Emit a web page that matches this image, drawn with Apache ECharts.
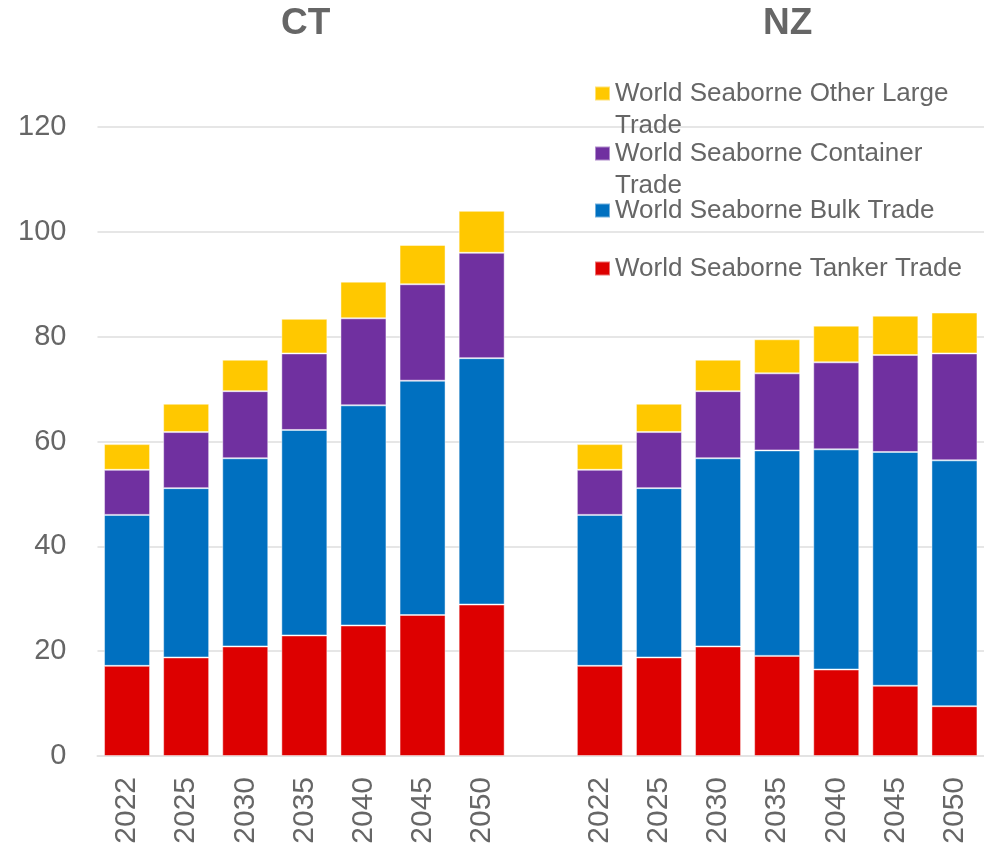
<!DOCTYPE html>
<html>
<head>
<meta charset="utf-8">
<script src="https://cdn.jsdelivr.net/npm/echarts@6/dist/echarts.min.js"></script>
<style>
  html, body { margin: 0; padding: 0; background: #fff; }
  #main { width: 984px; height: 850px; }
</style>
</head>
<body>
<div id="main"></div>
<script>
var years = ['2022', '2025', '2030', '2035', '2040', '2045', '2050']

// CT scenario
var ctTanker = [17.2, 18.8, 20.9, 23.0, 24.9, 26.9, 28.9]
var ctBulk = [28.8, 32.3, 35.9, 39.2, 42.0, 44.7, 47.0]
var ctContainer = [8.6, 10.7, 12.8, 14.6, 16.6, 18.4, 20.1]
var ctOther = [4.9, 5.4, 6.0, 6.6, 7.0, 7.5, 8.0]

// NZ scenario
var nzTanker = [17.2, 18.8, 20.9, 19.1, 16.5, 13.4, 9.5]
var nzBulk = [28.8, 32.3, 35.9, 39.2, 42.0, 44.6, 46.9]
var nzContainer = [8.6, 10.7, 12.8, 14.7, 16.6, 18.5, 20.4]
var nzOther = [4.9, 5.4, 6.0, 6.5, 7.0, 7.5, 7.8]

var names = ['World Seaborne Tanker Trade', 'World Seaborne Bulk Trade',
  'World Seaborne Container Trade', 'World Seaborne Other Large Trade']
var colors = ['#DD0000', '#0070C0', '#7030A0', '#FFC800']

// one axis, a blank slot between the two groups
var categories = years.concat(['']).concat(years)
function join(a, b) {
  return a.concat([null]).concat(b)
}
var seriesData = [
  join(ctTanker, nzTanker),
  join(ctBulk, nzBulk),
  join(ctContainer, nzContainer),
  join(ctOther, nzOther)
]

var gray = '#666666'
var font = '"Liberation Sans", Arial, sans-serif'

var chart = echarts.init(document.getElementById('main'))

// one legend per item so a wrapped name keeps its icon on the first line
// (a blank rich line above the text puts the first line at the icon's middle)
var wrapped = {
  'World Seaborne Other Large Trade': ['World Seaborne Other Large', 'Trade'],
  'World Seaborne Container Trade': ['World Seaborne Container', 'Trade']
}
var lh = 32
function makeLegend(name, center) {
  var lines = wrapped[name]
  var h = lines ? lh * 3 : lh
  return {
    data: [name],
    left: 594,
    top: center - h / 2,
    padding: 0,
    icon: 'rect',
    itemWidth: 15,
    itemHeight: 14,
    selectedMode: false,
    formatter: function (n) {
      if (lines) return '{g| }\n{t|' + lines[0] + '}\n{t|' + lines[1] + '}'
      return '{t|' + n + '}'
    },
    textStyle: {
      fontFamily: font,
      fontSize: 26,
      color: gray,
      rich: {
        g: { fontSize: 26, lineHeight: lh },
        t: { fontFamily: font, fontSize: 26, color: gray, lineHeight: lh }
      }
    }
  }
}

var titleStyle = {
  fontFamily: '"Liberation Sans", Arial',
  fontWeight: 'bold',
  fontSize: 37,
  color: gray
}

var option = {
  animation: false,
  backgroundColor: '#fff',
  title: [
    { text: 'CT', left: 281, top: 5, padding: 0, textStyle: titleStyle },
    { text: 'NZ', left: 763, top: 5, padding: 0, textStyle: titleStyle }
  ],
  legend: [
    makeLegend(names[3], 96.5),
    makeLegend(names[2], 156.5),
    makeLegend(names[1], 213.5),
    makeLegend(names[0], 271.5)
  ],
  grid: {
    left: 97.5,
    right: -6,
    top: 127,
    bottom: 94,
    containLabel: false
  },
  xAxis: {
    type: 'category',
    data: categories,
    axisTick: { show: false },
    axisLine: { lineStyle: { color: '#e3e3e3', width: 2 } },
    axisLabel: {
      rotate: 90,
      margin: 21,
      fontFamily: font,
      fontSize: 30,
      color: gray,
      interval: 0
    }
  },
  yAxis: {
    type: 'value',
    min: 0,
    max: 120,
    interval: 20,
    axisLine: { show: false },
    axisTick: { show: false },
    axisLabel: {
      margin: 31,
      fontFamily: font,
      fontSize: 29,
      color: gray
    },
    splitLine: { lineStyle: { color: '#e6e6e6', width: 2 } }
  },
  series: names.map(function (n, i) {
    return {
      name: n,
      type: 'bar',
      stack: 'total',
      barWidth: 46,
      data: seriesData[i],
      itemStyle: {
        color: colors[i],
        borderColor: 'rgba(255,255,255,0.45)',
        borderWidth: 1
      }
    }
  })
}

chart.setOption(option)
</script>
</body>
</html>
